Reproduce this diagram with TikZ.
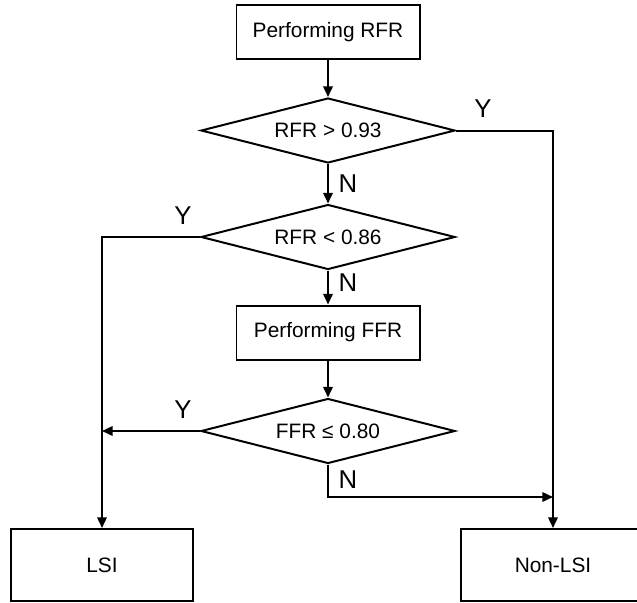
\documentclass[tikz,border=0pt]{standalone}
\usepackage{fontspec}
\setmainfont{Liberation Sans}
\usetikzlibrary{shapes.geometric,arrows.meta}

\begin{document}
\begin{tikzpicture}[x=0.03cm,y=-0.03cm,line width=1.7pt,
    box_node/.style={rectangle,draw,minimum width=5.49cm,minimum height=1.62cm,font=\fontsize{17.8}{20}\selectfont},
    test_node/.style={diamond,draw,aspect=3.9,inner sep=0pt,minimum width=7.62cm,minimum height=1.95cm,font=\fontsize{17.8}{20}\selectfont},
    flag_node/.style={inner sep=0pt,font=\fontsize{22}{24}\selectfont},
    >={Triangle[length=9pt,width=8pt]}]

    \clip (0,0) rectangle (637,602);

    \node[box_node] (1) at (328,32) {Performing RFR};
    \node[test_node] (2) at (328,130.5) {RFR > 0.93};
    \node[test_node] (3) at (328,237) {RFR < 0.86};
    \node[box_node] (4) at (328,332.5) {Performing FFR};
    \node[test_node] (5) at (328,431) {FFR ≤ 0.80};
    \node[box_node,minimum width=5.46cm,minimum height=2.16cm] (6) at (102,565) {LSI};
    \node[box_node,minimum width=5.52cm,minimum height=2.16cm] (7) at (553,565) {Non-LSI};
    \coordinate (14) at (553,497);

    \node[flag_node] (8) at (483,109) {Y};
    \node[flag_node] (9) at (348,184) {N};
    \node[flag_node] (10) at (183,216) {Y};
    \node[flag_node] (11) at (348,283) {N};
    \node[flag_node] (12) at (183,410) {Y};
    \node[flag_node] (13) at (348,480) {N};

    \draw[->] (1) -- (2);
    \draw[->] (2) -- (3);
    \draw[->] (3) -- (4);
    \draw[->] (4) -- (5);

    \draw[->] (2.east) -| (7.north);
    \draw[->] (3.west) -| (6.north);
    \draw[->] (5.west) -- (5.west -| 6.north);
    \draw[->] (5.south) |- (14);

\end{tikzpicture}
\end{document}
